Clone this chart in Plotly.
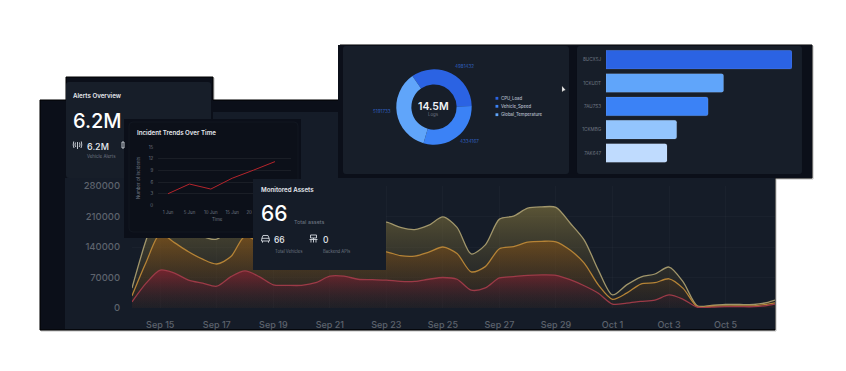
import plotly.graph_objects as go

W, H = 846, 371

# ---------- data ----------
area_times = [
    "2025-09-14 00:00","2025-09-14 12:00","2025-09-15 00:00","2025-09-15 12:00","2025-09-16 00:00","2025-09-16 12:00",
    "2025-09-17 00:00","2025-09-17 12:00","2025-09-18 00:00","2025-09-18 12:00","2025-09-19 00:00","2025-09-19 12:00",
    "2025-09-20 00:00","2025-09-20 12:00","2025-09-21 00:00","2025-09-21 12:00","2025-09-22 00:00","2025-09-22 12:00",
    "2025-09-23 00:00","2025-09-23 12:00","2025-09-24 00:00","2025-09-24 12:00","2025-09-25 00:00","2025-09-25 12:00",
    "2025-09-26 00:00","2025-09-26 12:00","2025-09-27 00:00","2025-09-27 12:00","2025-09-28 00:00","2025-09-28 12:00",
    "2025-09-29 00:00","2025-09-29 12:00","2025-09-30 00:00","2025-09-30 12:00","2025-10-01 00:00","2025-10-01 12:00",
    "2025-10-02 00:00","2025-10-02 12:00","2025-10-03 00:00","2025-10-03 12:00","2025-10-04 00:00","2025-10-04 12:00",
    "2025-10-05 00:00","2025-10-05 12:00","2025-10-06 00:00","2025-10-06 12:00","2025-10-06 18:00",
]
area_top = [46000,156000,240000,225000,190000,165000,158000,185000,225000,205000,165000,160000,160000,175000,205000,205000,
            190000,195000,197000,185000,180000,190000,209000,185000,124000,145000,204000,211000,229000,232000,231000,195000,
            156000,87000,30000,53000,71000,78000,94000,60000,5000,6000,8000,8000,8000,13000,18000]
area_mid = [28000,105000,170000,150000,129000,112000,101000,118000,165000,150000,125000,120000,120000,130000,150000,148000,
            135000,130000,129000,120000,119000,128000,140000,125000,83000,95000,136000,141000,151000,153000,152000,133000,
            103000,53000,20000,34000,55000,58000,67000,45000,3000,4000,5000,5000,5000,9000,12000]
area_red = [14000,57000,87000,80000,64000,57000,50000,72000,85000,72000,53000,52000,52000,58000,73000,73000,
            66000,65000,64000,61000,61000,66000,70000,66000,41000,46000,69000,72000,75000,76000,75000,65000,
            51000,34000,9000,11000,15000,18000,30000,20000,2000,2000,3000,3000,3000,6000,9000]
area_ticks = [0, 70000, 140000, 210000, 280000]

incident_days = ["1 Jun", "5 Jun", "10 Jun", "15 Jun", "20 Jun", "25 Jun"]
incident_counts = [3, 5.5, 4.2, 7, 9.1, 11.3]
incident_tick_labels = ["1 Jun", "5 Jun", "10 Jun", "15 Jun", "20 Jun"]
incident_ticks = [0, 3, 6, 9, 12, 15]

log_names = ["CPU_Load", "Vehicle_Speed", "Global_Temperature"]
log_counts = [4981432, 4334167, 5191733]
log_colors = ["#2b63e3", "#3b82f6", "#60a5fa"]

bar_ids = ["8UCX5J", "1CKUDT", "7AU7S3", "1CKMBG", "7AK647"]
bar_vals = [100, 63.2, 54.9, 38, 32.8]
bar_colors = ["#2b63e3", "#60a5fa", "#3b82f6", "#93c5fd", "#bfdbfe"]


# ---------- helpers ----------
def px(x):
    return x / W


def py(y):
    return 1 - y / H


def dom(a, b, size):
    return [a / size, b / size]


def ydom(top, bottom):
    return [1 - bottom / H, 1 - top / H]


def path_px(pts, close=True):
    s = "M" + " L".join(f"{px(x):.5f},{py(y):.5f}" for x, y in pts)
    return s + (" Z" if close else "")


def round_rect(x0, y0, x1, y1, r, fill, xref="paper", yref="paper", line=None, conv=None):
    conv = conv or (lambda x, y: (px(x), py(y)))
    k = [(x0 + r, y0), (x1 - r, y0), (x1, y0 + r), (x1, y1 - r), (x1 - r, y1), (x0 + r, y1), (x0, y1 - r), (x0, y0 + r)]
    c = [conv(*p) for p in k]
    cc = [conv(x1, y0), conv(x1, y1), conv(x0, y1), conv(x0, y0)]
    d = (f"M{c[0][0]:.5f},{c[0][1]:.5f} L{c[1][0]:.5f},{c[1][1]:.5f} Q{cc[0][0]:.5f},{cc[0][1]:.5f} {c[2][0]:.5f},{c[2][1]:.5f} "
         f"L{c[3][0]:.5f},{c[3][1]:.5f} Q{cc[1][0]:.5f},{cc[1][1]:.5f} {c[4][0]:.5f},{c[4][1]:.5f} "
         f"L{c[5][0]:.5f},{c[5][1]:.5f} Q{cc[2][0]:.5f},{cc[2][1]:.5f} {c[6][0]:.5f},{c[6][1]:.5f} "
         f"L{c[7][0]:.5f},{c[7][1]:.5f} Q{cc[3][0]:.5f},{cc[3][1]:.5f} {c[0][0]:.5f},{c[0][1]:.5f} Z")
    return dict(type="path", path=d, xref=xref, yref=yref, fillcolor=fill,
                line=dict(width=0.7, color=line) if line else dict(width=0), layer="below")


# Subplot rectangles in pixels: (left, right, top, bottom)
AREA = (132, 775, 186, 308)
ALERTS = (66, 211, 82, 178)
INC = (124, 301, 119, 238)
LINE = (158, 291, 147.3, 205.3)
MON = (253, 386, 179, 270)
BAR = (606, 792, 48, 164.7)
DONUT = (396.3, 471.7, 69.3, 144.7)


def in_rect(rect):
    x0, x1, t, b = rect
    return lambda x, y: ((x - x0) / (x1 - x0), (b - y) / (b - t))


fig = go.Figure()

# ---------- main area chart ----------
fills = [
    (area_top, "#a1966b", "rgba(128,115,62,0.68)", "rgba(70,60,35,0.10)"),
    (area_mid, "#b58336", "rgba(140,85,20,0.62)", "rgba(70,45,25,0.10)"),
    (area_red, "#9c3a47", "rgba(135,30,50,0.72)", "rgba(40,25,45,0.10)"),
]
for vals, lc, c_top, c_bot in fills:
    fig.add_trace(go.Scatter(
        x=area_times, y=vals, mode="lines", xaxis="x", yaxis="y",
        line=dict(color=lc, width=1.3, shape="spline", smoothing=0.8),
        fill="tozeroy",
        fillgradient=dict(type="vertical", colorscale=[[0, c_bot], [1, c_top]]),
        hoverinfo="skip", showlegend=False,
    ))

# Empty carriers: each card sits in its own subplot so the stacking follows the reference
for ax in ("2", "3"):
    fig.add_trace(go.Scatter(x=[None], y=[None], xaxis="x" + ax, yaxis="y" + ax, showlegend=False, hoverinfo="skip"))

# ---------- incident line ----------
fig.add_trace(go.Scatter(
    x=incident_days, y=incident_counts, mode="lines", xaxis="x4", yaxis="y4",
    line=dict(color="#b5252c", width=1), hoverinfo="skip", showlegend=False,
))

fig.add_trace(go.Scatter(x=[None], y=[None], xaxis="x5", yaxis="y5", showlegend=False, hoverinfo="skip"))

# ---------- bars ----------
fig.add_trace(go.Bar(
    x=bar_vals, y=bar_ids, orientation="h", xaxis="x6", yaxis="y6",
    marker=dict(color=bar_colors, cornerradius=2, line=dict(color="rgba(255,255,255,0.18)", width=0.6)),
    hoverinfo="skip", showlegend=False,
))

# ---------- donut ----------
fig.add_trace(go.Pie(
    labels=log_names, values=log_counts, hole=0.6, sort=False, direction="clockwise", rotation=-35,
    marker=dict(colors=log_colors, line=dict(width=0)), textinfo="none", hoverinfo="skip", showlegend=False,
    domain=dict(x=dom(DONUT[0], DONUT[1], W), y=ydom(DONUT[2], DONUT[3])),
))

# ---------- panels ----------
silhouette = [(40, 100), (66, 100), (66, 77), (213, 77), (213, 100), (340, 100), (340, 45), (812, 45),
              (812, 178), (775, 178), (775, 330), (40, 330)]
shapes = [
    dict(type="path", path=path_px([(x + 1, y + 1) for x, y in silhouette]), xref="paper", yref="paper",
         fillcolor="#d8d8d8", line=dict(width=1, color="#bdbdbd"), layer="below"),
    dict(type="path", path=path_px(silhouette), xref="paper", yref="paper",
         fillcolor="#0b0f19", line=dict(width=1, color="#000000"), layer="below"),
    dict(type="rect", x0=px(65), x1=px(775), y0=py(329), y1=py(178), xref="paper", yref="paper",
         fillcolor="#151c28", line=dict(width=0), layer="below"),
    dict(type="rect", x0=px(213), x1=px(338), y0=py(178), y1=py(112), xref="paper", yref="paper",
         fillcolor="#151c28", line=dict(width=0), layer="below"),
    dict(type="rect", x0=px(338), x1=px(812), y0=py(178), y1=py(45), xref="paper", yref="paper",
         fillcolor="#0b0f19", line=dict(width=0), layer="below"),
    round_rect(343, 46, 569, 174, 3, "#171e29"),
    round_rect(577, 46, 802, 174, 3, "#171e29"),
]

# Cards drawn in the axes of their own carrier subplots (those shapes stack by subplot)
shapes.append(round_rect(ALERTS[0], ALERTS[2], ALERTS[1], ALERTS[3], 3, "#171e29", "x2", "y2", conv=in_rect(ALERTS)))
shapes.append(dict(type="rect", x0=0, x1=1, y0=0, y1=1, xref="x3", yref="y3",
                   fillcolor="#0b0f19", line=dict(width=0), layer="below"))
shapes.append(round_rect(129, 122, 298, 232, 4, "#0c1019", "x3", "y3", line="#141a24", conv=in_rect(INC)))
shapes.append(dict(type="rect", x0=0, x1=1, y0=0, y1=1, xref="x5", yref="y5",
                   fillcolor="#151c28", line=dict(width=0), layer="below"))

# Legend markers
for yy, col in zip([98.3, 106.3, 114.7], log_colors):
    shapes.append(dict(type="rect", x0=px(495.5), x1=px(498.3), y0=py(yy + 1.4), y1=py(yy - 1.4),
                       xref="paper", yref="paper", fillcolor=col, line=dict(width=0), layer="above"))

# Icons
ic = dict(xref="paper", yref="paper", layer="above", fillcolor="rgba(0,0,0,0)")
white = dict(width=0.9, color="#d5d9e0")
# antenna
shapes += [
    dict(type="path", path=path_px([(77.5, 142), (77.5, 149)], False), line=white, **ic),
    dict(type="path", path=path_px([(75.5, 142.5), (75, 145), (75.8, 147)], False), line=white, **ic),
    dict(type="path", path=path_px([(79.5, 142.5), (80, 145), (79.2, 147)], False), line=white, **ic),
    dict(type="path", path=path_px([(73.7, 141.5), (73.2, 145), (74, 148)], False), line=white, **ic),
    dict(type="path", path=path_px([(81.3, 141.5), (81.8, 145), (81, 148)], False), line=white, **ic),
]
# cut-off icon in Alerts card
shapes.append(dict(type="rect", x0=px(122), x1=px(124), y0=py(148), y1=py(142), line=white, **ic))
# car
shapes += [
    dict(type="path", path=path_px([(262, 238), (263, 235.5), (268, 235.5), (269, 238), (269.5, 241), (261.5, 241)]), line=white, **ic),
    dict(type="path", path=path_px([(262.5, 241), (262.5, 242.7)], False), line=white, **ic),
    dict(type="path", path=path_px([(268.5, 241), (268.5, 242.7)], False), line=white, **ic),
    dict(type="path", path=path_px([(261.8, 238.3), (269.2, 238.3)], False), line=white, **ic),
]
# server
shapes += [
    dict(type="rect", x0=px(310.5), x1=px(316.5), y0=py(238), y1=py(235), line=white, **ic),
    dict(type="path", path=path_px([(309.5, 239.5), (317.5, 239.5)], False), line=white, **ic),
    dict(type="path", path=path_px([(311, 239.5), (311, 242.5)], False), line=white, **ic),
    dict(type="path", path=path_px([(316, 239.5), (316, 242.5)], False), line=white, **ic),
    dict(type="path", path=path_px([(313.5, 238), (313.5, 242.5)], False), line=white, **ic),
]
# mouse pointer
shapes.append(dict(type="path", path=path_px([(562, 86), (562, 92), (563.5, 90.8), (565.5, 90)]),
                   xref="paper", yref="paper", fillcolor="#f2f2f2", line=dict(width=0.3, color="#555555"), layer="above"))

# ---------- texts ----------
FONT = "Inter, Noto Sans, sans-serif"
ann = []


def T(x, y, text, size, color="#ffffff", anchor="left", weight=400, angle=0):
    ann.append(dict(x=px(x), y=py(y), xref="paper", yref="paper", text=text, showarrow=False,
                    xanchor=anchor, yanchor="middle", textangle=angle, borderpad=0, borderwidth=0,
                    font=dict(family=FONT, size=size, color=color, weight=weight)))


grey = "#6f7783"
# Alerts
T(73, 95, "Alerts Overview", 6.2, "#e6e9ee", weight=600)
T(73, 121, "6.2M", 20, "#ffffff", weight=500)
T(86.5, 146, "6.2M", 9, "#e6e9ee", weight=500)
T(86.5, 157, "Vehicle Alerts", 4.4, grey)
# Incident
T(137, 133, "Incident Trends Over Time", 6.2, "#e6e9ee", weight=600)
T(217.5, 219.7, "Time", 4.4, grey, "center")
T(139, 178, "Number of Incidents", 4.4, grey, "center", angle=-90)
# Monitored
T(260.5, 189, "Monitored Assets", 6.2, "#e6e9ee", weight=600)
T(260.5, 214, "66", 21, "#ffffff", weight=500)
T(294, 222, "Total assets", 5.4, grey)
T(274, 239.7, "66", 8.5, "#e6e9ee", weight=500)
T(323, 239.7, "0", 8.5, "#e6e9ee", weight=500)
T(274.5, 251, "Total Vehicles", 4.2, grey)
T(323, 251, "Backend APIs", 4.2, grey)
# Donut
total = sum(log_counts)
T(434, 106, f"{total / 1e6:.1f}M", 10.5, "#f2f4f7", "center", 600)
T(434, 115, "Logs", 4.4, grey, "center")
for (xx, yy), v in zip([(464, 66), (469, 141.7), (382, 112)], log_counts):
    T(xx, yy, str(v), 4.6, "#2f5fbf", "center")
for yy, name in zip([98.3, 106.3, 114.7], log_names):
    T(500.5, yy, name, 4.3, "#b4bcc8", weight=500)


def hidden_axis(rect, which, other):
    d = dom(rect[0], rect[1], W) if which == "x" else ydom(rect[2], rect[3])
    return dict(domain=d, visible=False, range=[0, 1], anchor=other, automargin=False)


fig.update_layout(
    width=W, height=H, autosize=False,
    margin=dict(l=0, r=0, t=0, b=0),
    paper_bgcolor="#ffffff", plot_bgcolor="rgba(0,0,0,0)",
    font=dict(family=FONT),
    shapes=shapes, annotations=ann,
    bargap=0.2,
    xaxis=dict(type="date", domain=dom(AREA[0], AREA[1], W), range=["2025-09-14", "2025-10-06 18:00"],
               tickvals=[f"2025-09-{d}" for d in range(15, 30, 2)] + ["2025-10-01", "2025-10-03", "2025-10-05"],
               tickformat="%b %-d", ticks="outside", ticklen=8, tickcolor="rgba(0,0,0,0)", automargin=False,
               tickfont=dict(family=FONT, size=9, color="#5d636d", weight=500),
               showgrid=True, gridcolor="rgba(255,255,255,0.025)", zeroline=False, showline=False, anchor="y"),
    yaxis=dict(domain=ydom(AREA[2], AREA[3]), range=[0, 280000], tickvals=area_ticks, tickformat="d",
               ticks="outside", ticklen=9, tickcolor="rgba(0,0,0,0)", automargin=False,
               tickfont=dict(family=FONT, size=9.5, color="#5d636d", weight=500),
               showgrid=True, gridcolor="rgba(255,255,255,0.025)", zeroline=False, showline=False, anchor="x"),
    xaxis2=hidden_axis(ALERTS, "x", "y2"), yaxis2=hidden_axis(ALERTS, "y", "x2"),
    xaxis3=hidden_axis(INC, "x", "y3"), yaxis3=hidden_axis(INC, "y", "x3"),
    xaxis4=dict(domain=dom(LINE[0], LINE[1], W), type="category", categoryorder="array", categoryarray=incident_days,
                range=[-0.47, 5.75], tickvals=incident_tick_labels,
                tickfont=dict(family=FONT, size=4.4, color=grey), ticks="outside", ticklen=2.5, automargin=False,
                tickcolor="rgba(0,0,0,0)", showgrid=False, zeroline=False, showline=False, anchor="y4"),
    yaxis4=dict(domain=ydom(LINE[2], LINE[3]), range=[0, 15], tickvals=incident_ticks, automargin=False,
                tickfont=dict(family=FONT, size=4.4, color=grey), ticks="outside", ticklen=3,
                tickcolor="rgba(0,0,0,0)", showgrid=True, gridcolor="rgba(255,255,255,0.06)", gridwidth=0.5,
                zeroline=False, showline=False, anchor="x4"),
    xaxis5=hidden_axis(MON, "x", "y5"), yaxis5=hidden_axis(MON, "y", "x5"),
    xaxis6=dict(domain=dom(BAR[0], BAR[1], W), range=[0, 100], visible=False, anchor="y6", automargin=False),
    yaxis6=dict(domain=ydom(BAR[2], BAR[3]), type="category", categoryorder="array", categoryarray=bar_ids,
                autorange="reversed", tickfont=dict(family=FONT, size=4.6, color=grey), ticks="outside", ticklen=3,
                tickcolor="rgba(0,0,0,0)", showgrid=False, zeroline=False, showline=False, anchor="x6", automargin=False),
)

fig.write_html("out.html", config=dict(displayModeBar=False),
               post_script="document.body.style.margin='0';document.documentElement.style.overflow='hidden';")
